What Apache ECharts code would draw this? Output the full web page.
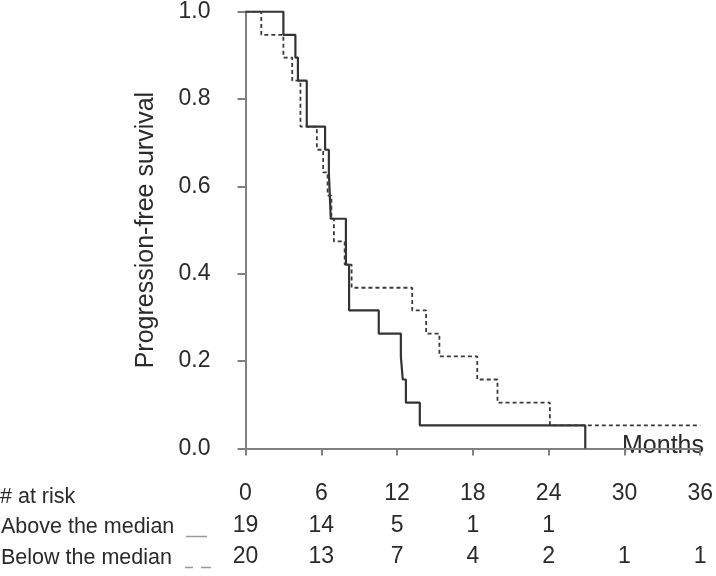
<!DOCTYPE html>
<html>
<head>
<meta charset="utf-8">
<script src="https://cdn.jsdelivr.net/npm/echarts@6/dist/echarts.min.js"></script>
<style>
html,body{margin:0;padding:0;background:#fff;}
#chart{width:716px;height:576px;}
</style>
</head>
<body>
<div id="chart"></div>
<script>
// Kaplan-Meier step data (months, survival)
const aboveTimes = [0, 3.0, 3.95, 4.15, 4.85, 6.3, 6.6, 6.75, 7.95, 8.2, 10.55, 12.3, 12.45, 12.7, 13.8, 26.9];
const aboveSurv  = [1.0, 0.947, 0.895, 0.842, 0.737, 0.684, 0.632, 0.526, 0.421, 0.316, 0.263, 0.211, 0.158, 0.105, 0.053, 0.0];
const belowTimes = [0, 1.25, 3.0, 3.7, 4.35, 5.65, 6.15, 6.5, 6.8, 7.0, 7.85, 8.4, 13.2, 14.3, 15.35, 18.35, 19.95, 24.1, 36];
const belowSurv  = [1.0, 0.947, 0.895, 0.842, 0.737, 0.684, 0.632, 0.579, 0.526, 0.474, 0.421, 0.368, 0.316, 0.263, 0.211, 0.158, 0.105, 0.053, 0.053];

const riskTicks = [0, 6, 12, 18, 24, 30, 36];
const aboveRisk = [19, 14, 5, 1, 1, null, null];
const belowRisk = [20, 13, 7, 4, 2, 1, 1];

const FONT = '"Liberation Sans", Arial, Helvetica, sans-serif';
const TXT = '#2a2a2a';
const AXC = '#808080';

function zip(t, s) { return t.map((x, i) => [x, s[i]]); }
function riskFmt(arr) {
  return function (v) {
    const i = riskTicks.indexOf(v);
    return (i >= 0 && arr[i] != null) ? String(arr[i]) : '';
  };
}

const chart = echarts.init(document.getElementById('chart'), null, {renderer: 'canvas'});

const baseX = {
  type: 'value', min: 0, max: 36, interval: 6,
  position: 'bottom', offset: 18,
  splitLine: {show: false}
};

chart.setOption({
  animation: false,
  backgroundColor: '#fff',
  grid: {left: 245.5, right: 14, top: 11.7, bottom: 127.5, containLabel: false},
  xAxis: [
    Object.assign({}, baseX, {
      axisLine: {show: true, lineStyle: {color: AXC, width: 2}},
      axisTick: {show: true, length: 7, lineStyle: {color: AXC, width: 2}},
      axisLabel: {margin: 16, fontFamily: FONT, fontSize: 23, color: TXT}
    }),
    Object.assign({}, baseX, {
      axisLine: {show: false}, axisTick: {show: false},
      axisLabel: {margin: 48, fontFamily: FONT, fontSize: 23, color: TXT, formatter: riskFmt(aboveRisk)}
    }),
    Object.assign({}, baseX, {
      axisLine: {show: false}, axisTick: {show: false},
      axisLabel: {margin: 79, fontFamily: FONT, fontSize: 23, color: TXT, formatter: riskFmt(belowRisk)}
    })
  ],
  yAxis: {
    type: 'value', min: 0, max: 1, interval: 0.2,
    offset: 19,
    name: 'Progression-free survival',
    nameLocation: 'middle', nameGap: 68,
    nameTextStyle: {fontFamily: FONT, fontSize: 25, color: TXT},
    axisLine: {show: true, lineStyle: {color: AXC, width: 2}},
    axisTick: {show: true, length: 8, lineStyle: {color: AXC, width: 2}},
    axisLabel: {margin: 16, fontFamily: FONT, fontSize: 23, color: TXT,
      formatter: v => v.toFixed(1)},
    splitLine: {show: false}
  },
  series: [
    {
      name: 'Below the median', type: 'line', step: 'end',
      xAxisIndex: 0, showSymbol: false, symbol: 'none',
      data: zip(belowTimes, belowSurv),
      lineStyle: {color: '#3a3a3a', width: 1.8, type: [4, 3]},
      z: 3
    },
    {
      name: 'Above the median', type: 'line', step: 'end',
      xAxisIndex: 0, showSymbol: false, symbol: 'none',
      data: zip(aboveTimes, aboveSurv),
      lineStyle: {color: '#333', width: 2.2},
      z: 2
    }
  ],
  graphic: [
    {type: 'text', left: 622, top: 434,
      style: {text: 'Months', font: '25px ' + FONT, fill: TXT}},
    {type: 'text', left: 0, top: 486,
      style: {text: '# at risk', font: '21.5px ' + FONT, fill: TXT}},
    {type: 'text', left: 1, top: 516,
      style: {text: 'Above the median', font: '21.5px ' + FONT, fill: TXT}},
    {type: 'text', left: 1, top: 547,
      style: {text: 'Below the median', font: '21.5px ' + FONT, fill: TXT}},
    {type: 'line', shape: {x1: 186, y1: 536.5, x2: 207, y2: 536.5},
      style: {stroke: '#999', lineWidth: 1.5}},
    {type: 'line', shape: {x1: 185, y1: 567.5, x2: 193, y2: 567.5},
      style: {stroke: '#999', lineWidth: 1.5}},
    {type: 'line', shape: {x1: 201, y1: 567.5, x2: 211, y2: 567.5},
      style: {stroke: '#999', lineWidth: 1.5}}
  ]
});
</script>
</body>
</html>
